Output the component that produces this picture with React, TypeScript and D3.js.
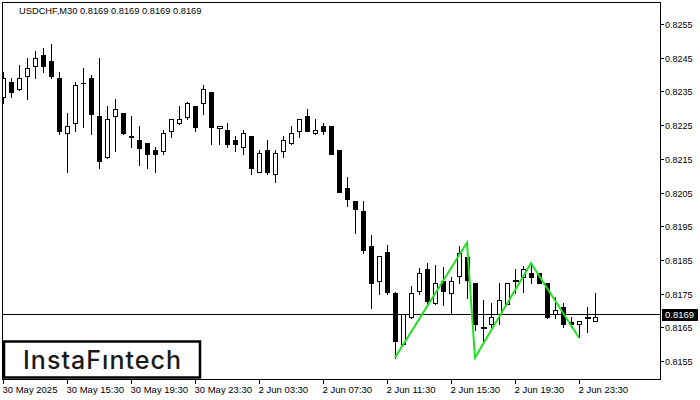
import { useEffect, useRef } from 'react';
import * as d3 from 'd3';

// OHLC of the USDCHF M30 bars, oldest first
const opens = [
  0.82334, 0.82377, 0.82356, 0.82397, 0.82426, 0.82458, 0.8244, 0.82389, 0.82226, 0.82255,
  0.82376, 0.82389, 0.82277, 0.82155, 0.82277, 0.82285, 0.82217, 0.82206, 0.82196, 0.82176,
  0.82174, 0.82233, 0.82255, 0.82275, 0.82307, 0.82317, 0.82347, 0.82245, 0.82236, 0.82206,
  0.82184, 0.82218, 0.82112, 0.82176, 0.82104, 0.82174, 0.82196, 0.82233, 0.82277, 0.82226,
  0.82247, 0.82247, 0.82176, 0.82063, 0.82025, 0.81995, 0.81891, 0.81788, 0.81873, 0.81753,
  0.816, 0.8168, 0.81758, 0.81822, 0.81721, 0.81788, 0.81751, 0.81802, 0.8186, 0.81781,
  0.8165, 0.8166, 0.8169, 0.81719, 0.8179, 0.818, 0.81811, 0.8181, 0.81781, 0.8169,
  0.81709, 0.81667, 0.81659, 0.8168, 0.81669,
];
const highs = [
  0.82407, 0.82391, 0.82428, 0.82448, 0.8247, 0.82478, 0.8249, 0.82407, 0.82285, 0.82379,
  0.82419, 0.82399, 0.82448, 0.82307, 0.82327, 0.82286, 0.82277, 0.82247, 0.82197, 0.82186,
  0.82236, 0.82268, 0.82307, 0.82318, 0.82308, 0.82369, 0.82348, 0.82246, 0.82255, 0.82218,
  0.82236, 0.82219, 0.82176, 0.82206, 0.82176, 0.82218, 0.82247, 0.82268, 0.82298, 0.82268,
  0.82255, 0.82248, 0.82177, 0.82095, 0.82026, 0.82025, 0.81924, 0.81862, 0.81894, 0.81754,
  0.81689, 0.81773, 0.81825, 0.8184, 0.81835, 0.81829, 0.818, 0.81891, 0.8187, 0.81782,
  0.81731, 0.81721, 0.81781, 0.81782, 0.81822, 0.81833, 0.81837, 0.81811, 0.81782, 0.8174,
  0.81723, 0.81682, 0.8167, 0.81709, 0.81751,
];
const lows = [
  0.82317, 0.82334, 0.82354, 0.82327, 0.82389, 0.82407, 0.82389, 0.82224, 0.82112, 0.82233,
  0.82245, 0.82224, 0.82124, 0.82153, 0.82174, 0.82224, 0.82185, 0.82132, 0.82124, 0.82112,
  0.82164, 0.82215, 0.82254, 0.82267, 0.82233, 0.82283, 0.82194, 0.82194, 0.82184, 0.82173,
  0.82164, 0.82104, 0.8211, 0.82104, 0.82082, 0.82155, 0.82195, 0.82215, 0.82232, 0.82225,
  0.82224, 0.82163, 0.82051, 0.8201, 0.81931, 0.8187, 0.81708, 0.81749, 0.81749, 0.8156,
  0.81599, 0.81679, 0.8175, 0.81719, 0.8172, 0.81716, 0.81689, 0.81781, 0.81738, 0.81642,
  0.81607, 0.8165, 0.8166, 0.81718, 0.81751, 0.81754, 0.81781, 0.8178, 0.81679, 0.81678,
  0.8165, 0.81651, 0.81622, 0.81637, 0.81668,
];
const closes = [
  0.82391, 0.82347, 0.82389, 0.82419, 0.82448, 0.82426, 0.82397, 0.82233, 0.82247, 0.82369,
  0.82375, 0.82283, 0.82144, 0.82267, 0.82297, 0.82226, 0.82215, 0.82183, 0.82164, 0.82164,
  0.82226, 0.82267, 0.82267, 0.82317, 0.82245, 0.82357, 0.82245, 0.82246, 0.82194, 0.82194,
  0.82226, 0.82124, 0.82166, 0.82112, 0.82166, 0.82206, 0.82226, 0.82267, 0.82233, 0.82236,
  0.82233, 0.82164, 0.82052, 0.82031, 0.82001, 0.8188, 0.81781, 0.81861, 0.81756, 0.81609,
  0.81689, 0.81751, 0.8181, 0.81729, 0.81781, 0.81759, 0.81788, 0.81871, 0.8179, 0.8166,
  0.81651, 0.8168, 0.81731, 0.81781, 0.81791, 0.81823, 0.818, 0.81781, 0.8168, 0.81701,
  0.8166, 0.81659, 0.81669, 0.81681, 0.81682,
];

const priceTicks = [0.8155, 0.8165, 0.8175, 0.8185, 0.8195, 0.8205, 0.8215, 0.8225, 0.8235, 0.8245, 0.8255];
const timeTickIdx = [0, 8, 16, 24, 32, 40, 48, 56, 64, 72];
const timeTickLabels = [
  '30 May 2025', '30 May 15:30', '30 May 19:30', '30 May 23:30', '2 Jun 03:30',
  '2 Jun 07:30', '2 Jun 11:30', '2 Jun 15:30', '2 Jun 19:30', '2 Jun 23:30',
];

// triple bottom pattern outline
const patternIdx = [49, 58, 59, 66, 72];
const patternPrice = [0.8156, 0.81901, 0.8156, 0.8184, 0.81619];

const currentPrice = 0.8169;
const title = 'USDCHF,M30  0.8169 0.8169 0.8169 0.8169';

export default function App() {
  const svgRef = useRef<SVGSVGElement>(null);

  useEffect(() => {
    if (!svgRef.current) return;
    const svg = d3.select(svgRef.current);
    svg.selectAll('*').remove();

    const left = 2, right = 660, top = 2, bottom = 379;
    const x = d3.scaleLinear().domain([0, 1]).range([3, 11]);
    const y = d3.scaleLinear().domain([0.8155, 0.8255]).range([361, 24]);
    const font = '"Liberation Sans", Arial, sans-serif';

    svg.append('rect').attr('width', 700).attr('height', 400).attr('fill', '#fff');

    svg.append('clipPath').attr('id', 'plot')
      .append('rect').attr('x', left + 1).attr('y', top + 1)
      .attr('width', right - left - 1).attr('height', bottom - top - 1);

    const plot = svg.append('g').attr('clip-path', 'url(#plot)').attr('shape-rendering', 'crispEdges');

    // current price line
    plot.append('line')
      .attr('x1', left).attr('x2', right)
      .attr('y1', Math.round(y(currentPrice)) + 0.5).attr('y2', Math.round(y(currentPrice)) + 0.5)
      .attr('stroke', '#000');

    // candles
    opens.forEach((o, i) => {
      const c = closes[i];
      const cx = Math.round(x(i));
      const g = plot.append('g');
      g.append('line')
        .attr('x1', cx + 0.5).attr('x2', cx + 0.5)
        .attr('y1', Math.round(y(highs[i]))).attr('y2', Math.round(y(lows[i])) + 1)
        .attr('stroke', '#000');
      const yt = Math.round(y(Math.max(o, c)));
      const yb = Math.round(y(Math.min(o, c)));
      if (yb - yt < 2) {
        g.append('rect').attr('x', cx - 2).attr('y', yt).attr('width', 5).attr('height', Math.max(1, yb - yt + 1))
          .attr('fill', c >= o ? '#fff' : '#000').attr('stroke', c >= o ? '#000' : 'none');
      } else if (c >= o) {
        g.append('rect').attr('x', cx - 1.5).attr('y', yt + 0.5).attr('width', 4).attr('height', yb - yt)
          .attr('fill', '#fff').attr('stroke', '#000');
      } else {
        g.append('rect').attr('x', cx - 2).attr('y', yt).attr('width', 5).attr('height', yb - yt + 1)
          .attr('fill', '#000');
      }
    });

    // pattern
    const line = d3.line<number>()
      .x((d, k) => x(patternIdx[k]))
      .y(d => y(d));
    svg.append('path')
      .attr('d', line(patternPrice) || '')
      .attr('fill', 'none')
      .attr('stroke', '#22e022')
      .attr('stroke-width', 2);

    // frame
    const frame = svg.append('g').attr('shape-rendering', 'crispEdges').attr('stroke', '#000');
    frame.append('line').attr('x1', left).attr('x2', right + 1).attr('y1', top + 0.5).attr('y2', top + 0.5);
    frame.append('line').attr('x1', left).attr('x2', right + 1).attr('y1', bottom + 0.5).attr('y2', bottom + 0.5);
    frame.append('line').attr('x1', left + 0.5).attr('x2', left + 0.5).attr('y1', top).attr('y2', bottom + 1);
    frame.append('line').attr('x1', right + 0.5).attr('x2', right + 0.5).attr('y1', top).attr('y2', bottom + 1);

    // price axis
    priceTicks.forEach(p => {
      const yy = Math.round(y(p)) + 0.5;
      frame.append('line').attr('x1', right).attr('x2', right + 4).attr('y1', yy).attr('y2', yy);
      svg.append('text')
        .attr('x', 665).attr('y', yy + 3.5)
        .attr('font-family', font).attr('font-size', 9).attr('fill', '#000')
        .text(p.toFixed(4));
    });

    // current price label
    const cy = Math.round(y(currentPrice));
    svg.append('rect').attr('x', 662).attr('y', cy - 5).attr('width', 36).attr('height', 12).attr('fill', '#000');
    svg.append('text')
      .attr('x', 665).attr('y', cy + 4)
      .attr('font-family', font).attr('font-size', 9.5).attr('fill', '#fff')
      .text(currentPrice.toFixed(4));

    // time axis
    timeTickIdx.forEach((idx, k) => {
      const xx = Math.round(x(idx)) + 0.5;
      frame.append('line').attr('x1', xx).attr('x2', xx).attr('y1', bottom).attr('y2', bottom + 5);
      svg.append('text')
        .attr('x', xx - 1).attr('y', 392.5)
        .attr('font-family', font).attr('font-size', 9.5).attr('fill', '#000')
        .text(timeTickLabels[k]);
    });

    // title
    svg.append('text')
      .attr('x', 19).attr('y', 13.5)
      .attr('font-family', font).attr('font-size', 9.3).attr('fill', '#000')
      .text(title);

    // logo
    svg.append('rect')
      .attr('x', 4).attr('y', 341.5).attr('width', 196).attr('height', 36)
      .attr('fill', '#fff').attr('stroke', '#000').attr('stroke-width', 2.5);
    svg.append('text')
      .attr('x', 23).attr('y', 368.5)
      .attr('font-family', 'Inter, "Open Sans", sans-serif').attr('font-size', 25).attr('font-weight', 500)
      .attr('fill', '#1a1a1a')
      .attr('textLength', 158).attr('lengthAdjust', 'spacing')
      .text('InstaFıntech');
  }, []);

  return (
    <svg
      ref={svgRef}
      width={700}
      height={400}
      style={{ position: 'fixed', left: 0, top: 0, display: 'block' }}
    />
  );
}
